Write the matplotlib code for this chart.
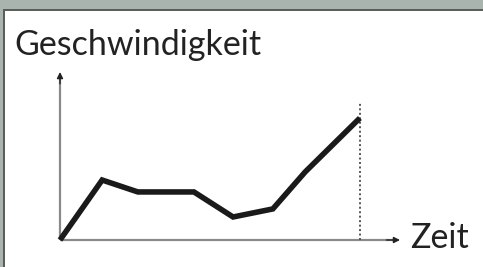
import matplotlib
matplotlib.use("Agg")
import matplotlib.pyplot as plt
from matplotlib.patches import Rectangle

# Zeit / Geschwindigkeit (abstrakte Einheiten, Achsen 0..10)
zeit = [0, 1.24, 2.29, 3.94, 5.09, 6.26, 7.21, 8.82]
geschw = [0, 3.57, 2.86, 2.86, 1.37, 1.85, 4.05, 7.26]
ende_zeit = 8.82
ende_hoehe = 8.15

plt.rcParams['font.family'] = ['Lato', 'DejaVu Sans']

fig = plt.figure(figsize=(4.83, 2.67), dpi=100)
fig.patch.set_facecolor('white')

W, H = 483, 267
# Rahmen oben und links
fig.patches.append(Rectangle((0, 1 - 9 / H), 1, 9 / H, transform=fig.transFigure,
                             facecolor='#aab4ae', edgecolor='none', zorder=0))
fig.patches.append(Rectangle((0, 1 - 10.5 / H), 1, 1.5 / H, transform=fig.transFigure,
                             facecolor='#5a5f5c', edgecolor='none', zorder=0))
fig.patches.append(Rectangle((0, 0), 3 / W, 1 - 9 / H, transform=fig.transFigure,
                             facecolor='#aab4ae', edgecolor='none', zorder=0))
fig.patches.append(Rectangle((3 / W, 0), 1.5 / W, 1 - 9 / H, transform=fig.transFigure,
                             facecolor='#5a5f5c', edgecolor='none', zorder=0))

ax = fig.add_axes([60 / W, (H - 240) / H, 340 / W, 168 / H])
ax.set_xlim(0, 10)
ax.set_ylim(0, 10)
ax.axis('off')

# Achsen (grau) mit dunklen Pfeilspitzen
ax.plot([0, 9.8], [0, 0], color='#8a8a8a', lw=1.6, clip_on=False,
        solid_capstyle='butt')
ax.plot([0, 0], [0, 9.6], color='#8a8a8a', lw=1.6, clip_on=False,
        solid_capstyle='butt')
ax.annotate('', xy=(10, 0), xytext=(9.6, 0),
            arrowprops=dict(arrowstyle='-|>', color='#222222', lw=1.0,
                            mutation_scale=9, shrinkA=0, shrinkB=0))
ax.annotate('', xy=(0, 10), xytext=(0, 9.3),
            arrowprops=dict(arrowstyle='-|>', color='#222222', lw=1.0,
                            mutation_scale=9, shrinkA=0, shrinkB=0))

ax.plot([ende_zeit, ende_zeit], [0, ende_hoehe], color='#555555', lw=1.4,
        linestyle=(0, (1, 1.3)), clip_on=False)
ax.plot(zeit, geschw, color='#1a1a1a', lw=4.0, solid_joinstyle='miter',
        solid_capstyle='butt', clip_on=False)

fig.text(14 / W, 1 - 55 / H, 'Geschwindigkeit', fontsize=24.5, color='#222222',
         ha='left', va='baseline')
fig.text(410 / W, 1 - 248 / H, 'Zeit', fontsize=24.5, color='#222222',
         ha='left', va='baseline')

fig.savefig('out.png', dpi=100)
